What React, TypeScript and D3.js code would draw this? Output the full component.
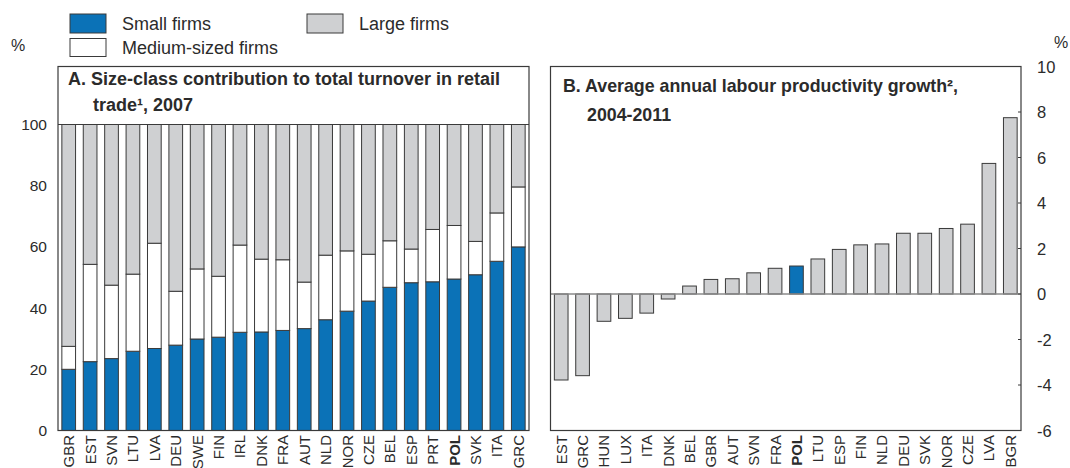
import React from 'react';
import * as d3 from 'd3';

// Panel A: size-class contribution to turnover in retail trade, 2007 (% of total)
const sizeCountries = ['GBR', 'EST', 'SVN', 'LTU', 'LVA', 'DEU', 'SWE', 'FIN', 'IRL', 'DNK', 'FRA',
  'AUT', 'NLD', 'NOR', 'CZE', 'BEL', 'ESP', 'PRT', 'POL', 'SVK', 'ITA', 'GRC'];
const smallFirms = [20, 22.5, 23.5, 25.9, 26.8, 27.9, 29.9, 30.5, 32.1, 32.2, 32.7,
  33.3, 36.2, 39, 42.3, 46.8, 48.3, 48.6, 49.5, 50.9, 55.3, 60];
const mediumFirms = [7.5, 31.8, 24, 25.2, 34.4, 17.6, 22.9, 19.9, 28.5, 23.8, 23.1,
  15.2, 21.1, 19.7, 15.3, 15.2, 11, 17.1, 17.5, 10.9, 15.8, 19.6];
const sizeTicks = [0, 20, 40, 60, 80, 100];

// Panel B: average annual labour productivity growth, 2004-2011 (%)
const growthCountries = ['EST', 'GRC', 'HUN', 'LUX', 'ITA', 'DNK', 'BEL', 'GBR', 'AUT', 'SVN', 'FRA',
  'POL', 'LTU', 'ESP', 'FIN', 'NLD', 'DEU', 'SVK', 'NOR', 'CZE', 'LVA', 'BGR'];
const growthValues = [-3.78, -3.59, -1.2, -1.07, -0.84, -0.22, 0.35, 0.64, 0.67, 0.93, 1.13,
  1.23, 1.54, 1.96, 2.16, 2.2, 2.67, 2.67, 2.88, 3.07, 5.74, 7.75];
const growthTicks = [-6, -4, -2, 0, 2, 4, 6, 8, 10];

const BLUE = '#0b72b7';
const GREY = '#cfd0d2';
const EDGE = '#3a3a3a';
const TEXT = '#2b2b2b';
const FONT = '"Liberation Sans", Arial, sans-serif';

const W = 1070, H = 468;
const top = 66.5, bottom = 430.5;

export default function App() {
  // ---- panel A
  const aLeft = 58, aRight = 529;
  const aPlotTop = 124.5;
  const xA = d3.scaleBand<string>().domain(sizeCountries).range([aLeft, aRight])
    .paddingInner(0.36).paddingOuter(0.18);
  const yA = d3.scaleLinear().domain([0, 100]).range([bottom, aPlotTop]);

  const rows = sizeCountries.map((c, i) => ({
    country: c,
    small: smallFirms[i],
    medium: mediumFirms[i],
    large: 100 - smallFirms[i] - mediumFirms[i],
  }));
  const stack = d3.stack<any>().keys(['small', 'medium', 'large'])(rows);
  const fills: Record<string, string> = { small: BLUE, medium: '#ffffff', large: GREY };

  // ---- panel B
  const bLeft = 550.5, bRight = 1021;
  const xB = d3.scaleBand<string>().domain(growthCountries).range([bLeft, bRight])
    .paddingInner(0.36).paddingOuter(0.18);
  const yB = d3.scaleLinear().domain([-6, 10]).range([bottom, top]);

  return (
    <svg width={W} height={H} style={{ position: 'absolute', left: 0, top: 0, background: '#fff' }}
      fontFamily={FONT}>
      {/* legend */}
      <g fontSize={18} fill={TEXT}>
        <rect x={70} y={14} width={36} height={19} fill={BLUE} stroke={EDGE} />
        <text x={122} y={23.5} dominantBaseline="central">Small firms</text>
        <rect x={70} y={38.5} width={36} height={18} fill="#fff" stroke={EDGE} />
        <text x={122} y={48} dominantBaseline="central">Medium-sized firms</text>
        <rect x={307} y={14} width={36} height={19} fill={GREY} stroke={EDGE} />
        <text x={359} y={23.5} dominantBaseline="central">Large firms</text>
      </g>
      <text x={11} y={45} fontSize={16} fill={TEXT} dominantBaseline="central">%</text>
      <text x={1054} y={42} fontSize={16} fill={TEXT} dominantBaseline="central">%</text>

      {/* panel A bars */}
      {stack.map(layer => (
        <g key={layer.key}>
          {layer.map((d, i) => (
            <rect key={i} x={xA(sizeCountries[i])} width={xA.bandwidth()}
              y={yA(d[1])} height={yA(d[0]) - yA(d[1])}
              fill={fills[layer.key]} stroke={EDGE} strokeWidth={1} />
          ))}
        </g>
      ))}
      {/* panel A frame */}
      <rect x={aLeft} y={top} width={aRight - aLeft} height={bottom - top} fill="none" stroke={EDGE} strokeWidth={1.2} />
      <line x1={aLeft} x2={aRight} y1={aPlotTop} y2={aPlotTop} stroke={EDGE} strokeWidth={1.2} />
      <g fontWeight="bold" fontSize={18} fill={TEXT}>
        <text x={68} y={79} dominantBaseline="central">A. Size-class contribution to total turnover in retail</text>
        <text x={93} y={105} dominantBaseline="central">trade¹, 2007</text>
      </g>
      <g fontSize={15.5} fill={TEXT} textAnchor="end">
        {sizeTicks.map(t => (
          <text key={t} x={47} y={yA(t)} dominantBaseline="central">{t}</text>
        ))}
      </g>
      <g fontSize={15} fill={TEXT}>
        {sizeCountries.map(c => (
          <text key={c} transform={`translate(${xA(c)! + xA.bandwidth() / 2},435) rotate(-90)`}
            textAnchor="end" dominantBaseline="central" fontWeight={c === 'POL' ? 'bold' : 'normal'}>{c}</text>
        ))}
      </g>

      {/* panel B bars */}
      {growthValues.map((v, i) => (
        <rect key={i} x={xB(growthCountries[i])} width={xB.bandwidth()}
          y={yB(Math.max(0, v))} height={Math.abs(yB(v) - yB(0))}
          fill={growthCountries[i] === 'POL' ? BLUE : GREY} stroke={EDGE} strokeWidth={1} />
      ))}
      <line x1={bLeft} x2={bRight} y1={yB(0)} y2={yB(0)} stroke="#8a8a8a" strokeWidth={1.5} />
      <rect x={bLeft} y={top} width={bRight - bLeft} height={bottom - top} fill="none" stroke={EDGE} strokeWidth={1.2} />
      {growthTicks.map(t => (
        <line key={t} x1={bRight - 3} x2={bRight} y1={yB(t)} y2={yB(t)} stroke={EDGE} />
      ))}
      <g fontWeight="bold" fontSize={17.8} fill={TEXT}>
        <text x={563} y={86} dominantBaseline="central">B. Average annual labour productivity growth²,</text>
        <text x={587} y={115} dominantBaseline="central">2004-2011</text>
      </g>
      <g fontSize={16.5} fill={TEXT}>
        {growthTicks.map(t => (
          <text key={t} x={1037} y={yB(t)} dominantBaseline="central">{t}</text>
        ))}
      </g>
      <g fontSize={15} fill={TEXT}>
        {growthCountries.map(c => (
          <text key={c} transform={`translate(${xB(c)! + xB.bandwidth() / 2},435) rotate(-90)`}
            textAnchor="end" dominantBaseline="central" fontWeight={c === 'POL' ? 'bold' : 'normal'}>{c}</text>
        ))}
      </g>
    </svg>
  );
}
